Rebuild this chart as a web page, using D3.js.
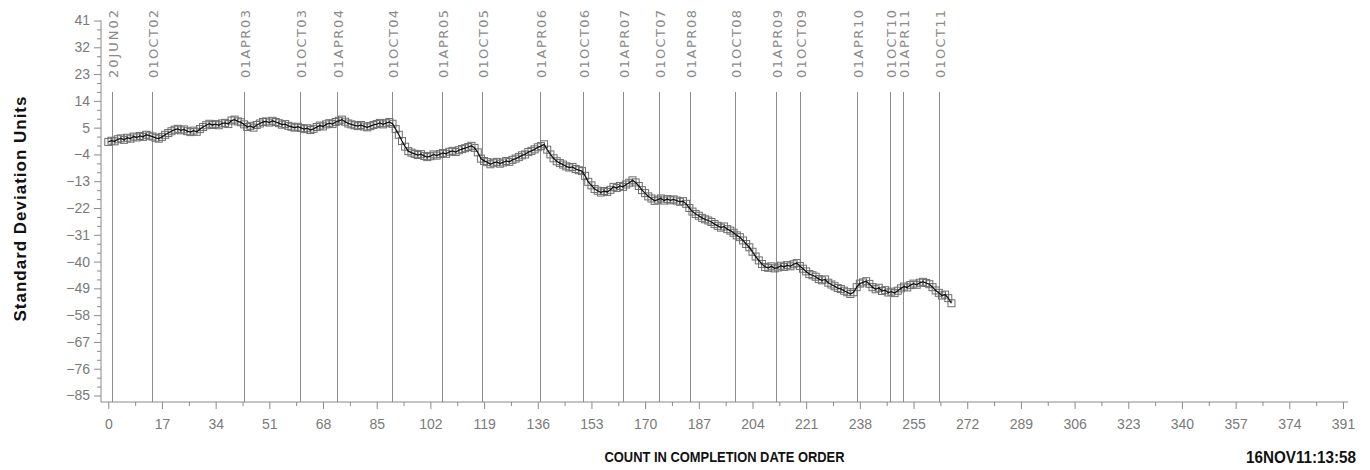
<!DOCTYPE html>
<html>
<head>
<meta charset="utf-8">
<script src="https://cdn.jsdelivr.net/npm/d3@7/dist/d3.min.js"></script>
<style>
  body { margin: 0; background: #fff; }
  .axis .tick text { font-family: 'Liberation Sans Narrow', 'Liberation Sans', sans-serif; font-size: 14px; fill: #7a7a7a; }
  .axis .tick line { stroke: #8a8a8a; }
</style>
</head>
<body>
<div id="chart"></div>
<script>
// Standard deviation units by count in completion date order

// one value per count, starting at count 0
const sdUnits = [
  0.2, 0.6, 0.4, 1.1, 1.4, 0.9, 1.6, 1.3, 2.0, 1.7,
  2.2, 1.9, 2.6, 2.3, 2.0, 1.6, 1.3, 1.9, 2.6, 3.2,
  3.8, 4.3, 4.6, 4.1, 4.4, 3.8, 3.5, 4.0, 3.6, 4.5,
  5.2, 5.8, 6.3, 5.9, 6.2, 5.8, 6.4, 6.6, 6.2, 7.4,
  7.7, 7.1, 6.8, 6.1, 5.2, 5.6, 5.0, 5.9, 6.4, 6.9,
  7.1, 6.7, 7.3, 6.9, 6.5, 6.0, 6.2, 5.6, 5.3, 5.0,
  5.3, 4.9, 4.5, 4.8, 4.2, 4.6, 5.2, 5.7, 5.4, 6.1,
  6.5, 6.2, 6.9, 7.3, 7.7, 7.0, 6.4, 6.1, 5.8, 5.5,
  5.9, 5.4, 5.1, 5.5, 5.9, 6.2, 6.6, 6.1, 6.5, 6.9,
  6.3, 4.5, 2.6, 0.5, -1.4, -2.9, -3.4, -3.8, -4.2, -3.9,
  -4.5, -4.9, -4.6, -4.0, -4.4, -3.9, -3.5, -3.8, -3.1, -2.8,
  -3.2, -2.6, -2.2, -1.9, -1.5, -1.1, -1.8, -3.3, -5.4, -6.2,
  -6.6, -7.3, -6.8, -6.5, -7.1, -6.7, -6.2, -6.5, -5.8, -5.4,
  -4.9, -4.3, -4.0, -3.2, -2.8, -2.3, -1.6, -1.2, -0.6, -2.4,
  -4.0, -5.3, -6.3, -6.9, -7.4, -8.0, -8.4, -8.2, -8.9, -9.3,
  -9.6, -11.2, -13.2, -14.4, -15.6, -16.2, -16.8, -16.3, -16.6, -15.9,
  -14.9, -15.3, -14.6, -14.9, -14.1, -13.5, -12.7, -13.4, -14.6, -16.0,
  -17.0, -18.1, -18.8, -19.6, -19.2, -18.8, -19.5, -19.0, -19.4, -19.1,
  -19.5, -19.9, -19.7, -20.6, -22.0, -23.2, -24.0, -24.6, -25.3, -25.8,
  -26.2, -26.7, -27.4, -28.0, -28.6, -28.2, -29.1, -29.6, -30.3, -31.2,
  -31.8, -32.9, -34.1, -35.2, -36.7, -38.3, -39.6, -40.8, -41.8, -42.1,
  -41.6, -42.3, -42.0, -41.4, -41.8, -41.2, -41.6, -40.9, -40.5, -41.5,
  -42.4, -43.3, -44.2, -44.6, -45.1, -45.9, -46.3, -46.0, -47.1, -47.7,
  -48.3, -48.9, -49.2, -49.8, -50.3, -50.9, -50.3, -48.6, -47.4, -47.0,
  -46.6, -47.5, -48.6, -49.3, -48.8, -49.9, -49.6, -50.4, -50.1, -50.6,
  -49.8, -49.0, -48.4, -48.7, -47.9, -47.4, -47.8, -47.1, -46.8, -47.2,
  -47.6, -48.6, -49.7, -50.5, -51.4, -51.1, -52.3, -54.0
]

// reference dates and the count where each one falls
const refLabels = ['20JUN02', '01OCT02', '01APR03', '01OCT03', '01APR04', '01OCT04', '01APR05',
  '01OCT05', '01APR06', '01OCT06', '01APR07', '01OCT07', '01APR08', '01OCT08', '01APR09',
  '01OCT09', '01APR10', '01OCT10', '01APR11', '01OCT11']
const refCounts = [1.1, 13.9, 43.0, 60.6, 72.3, 89.8, 105.7, 118.2, 136.7, 150.2, 163.1,
  174.5, 184.1, 198.4, 211.3, 219.0, 237.1, 247.4, 251.7, 263.0]

const xTicks = [0, 17, 34, 51, 68, 85, 102, 119, 136, 153, 170, 187, 204, 221, 238, 255,
  272, 289, 306, 323, 340, 357, 374, 391]
const yTicks = [41, 32, 23, 14, 5, -4, -13, -22, -31, -40, -49, -58, -67, -76, -85]

let width = 1370,
    height = 470,
    axisColor = '#8a8a8a'

let svg = d3.select('#chart').append('svg')
    .attr('width', width)
    .attr('height', height)
    .style('display', 'block')

let xScale = d3.scaleLinear()
    .domain([0, 391])
    .range([108.3, 1343]),
    yScale = d3.scaleLinear()
    .domain([-85, 41])
    .range([395.5, 20.5])

let axisLeft = 101,
    axisBottom = 402

// minor ticks first so majors sit on top
let xMinor = xTicks.slice(0, -1).map(d => d + 8.5),
    yMinor = []
yTicks.slice(0, -1).forEach(d => { yMinor.push(d - 3, d - 6) })

svg.append('g')
  .attr('class', 'axis')
  .attr('transform', 'translate(0,' + axisBottom + ')')
  .call(d3.axisBottom(xScale).tickValues(xMinor).tickSize(4).tickFormat(''))
  .call(g => g.select('.domain').remove())

svg.append('g')
  .attr('class', 'axis')
  .attr('transform', 'translate(' + axisLeft + ',0)')
  .call(d3.axisLeft(yScale).tickValues(yMinor).tickSize(4).tickFormat(''))
  .call(g => g.select('.domain').remove())

svg.append('g')
  .attr('class', 'axis axis-x')
  .attr('transform', 'translate(0,' + axisBottom + ')')
  .call(d3.axisBottom(xScale).tickValues(xTicks).tickSize(7).tickPadding(10))
  .call(g => g.select('.domain').remove())

svg.append('g')
  .attr('class', 'axis axis-y')
  .attr('transform', 'translate(' + axisLeft + ',0)')
  .call(d3.axisLeft(yScale).tickValues(yTicks).tickSize(7).tickPadding(4)
    .tickFormat(d => d < 0 ? '\u2212' + Math.abs(d) : d))
  .call(g => g.select('.domain').remove())

// axis lines
svg.append('line')
  .attr('x1', axisLeft).attr('x2', 1348)
  .attr('y1', axisBottom).attr('y2', axisBottom)
  .attr('stroke', axisColor)
svg.append('line')
  .attr('x1', axisLeft).attr('x2', axisLeft)
  .attr('y1', yScale(41)).attr('y2', axisBottom)
  .attr('stroke', axisColor)

// reference date lines with rotated labels
let refs = svg.append('g').attr('class', 'refs')
refCounts.forEach((c, i) => {
  let x = Math.round(xScale(c)) + 0.5
  refs.append('line')
    .attr('x1', x).attr('x2', x)
    .attr('y1', 92).attr('y2', axisBottom)
    .attr('stroke', '#8c8c8c')
    .attr('stroke-width', 1)
  refs.append('text')
    .attr('transform', 'translate(' + (x + 5) + ',78) rotate(-90)')
    .attr('font-family', 'DejaVu Sans, sans-serif')
    .attr('font-size', 13)
    .attr('fill', '#8a8a8a')
    .attr('textLength', 68)
    .attr('lengthAdjust', 'spacing')
    .text(refLabels[i])
})

// data: black line with hollow square markers
let line = d3.line()
    .x((d, i) => xScale(i))
    .y(d => yScale(d))

svg.append('g')
  .selectAll('rect')
  .data(sdUnits)
  .join('rect')
  .attr('x', (d, i) => xScale(i) - 3.5)
  .attr('y', d => yScale(d) - 3.5)
  .attr('width', 7)
  .attr('height', 7)
  .attr('fill', 'none')
  .attr('stroke', '#6e6e6e')
  .attr('stroke-width', 1)

svg.append('path')
  .datum(sdUnits)
  .attr('d', line)
  .attr('fill', 'none')
  .attr('stroke', '#111')
  .attr('stroke-width', 1.3)

// titles
svg.append('text')
  .attr('transform', 'translate(26,' + 209 + ') rotate(-90)')
  .attr('text-anchor', 'middle')
  .attr('font-family', 'Liberation Sans, Arial, sans-serif')
  .attr('font-weight', 'bold')
  .attr('font-size', 17)
  .attr('fill', '#111')
  .attr('textLength', 225)
  .attr('lengthAdjust', 'spacing')
  .text('Standard  Deviation  Units')

svg.append('text')
  .attr('x', (axisLeft + 1348) / 2)
  .attr('y', 462)
  .attr('text-anchor', 'middle')
  .attr('font-family', 'Liberation Sans Narrow, sans-serif')
  .attr('font-weight', 'bold')
  .attr('font-size', 14)
  .attr('fill', '#111')
  .attr('textLength', 240)
  .attr('lengthAdjust', 'spacingAndGlyphs')
  .text('COUNT IN COMPLETION DATE ORDER')

svg.append('text')
  .attr('x', 1246)
  .attr('y', 463)
  .attr('font-family', 'Liberation Sans Narrow, sans-serif')
  .attr('font-weight', 'bold')
  .attr('font-size', 17)
  .attr('fill', '#111')
  .attr('textLength', 110)
  .attr('lengthAdjust', 'spacingAndGlyphs')
  .text('16NOV11:13:58')
</script>
</body>
</html>
